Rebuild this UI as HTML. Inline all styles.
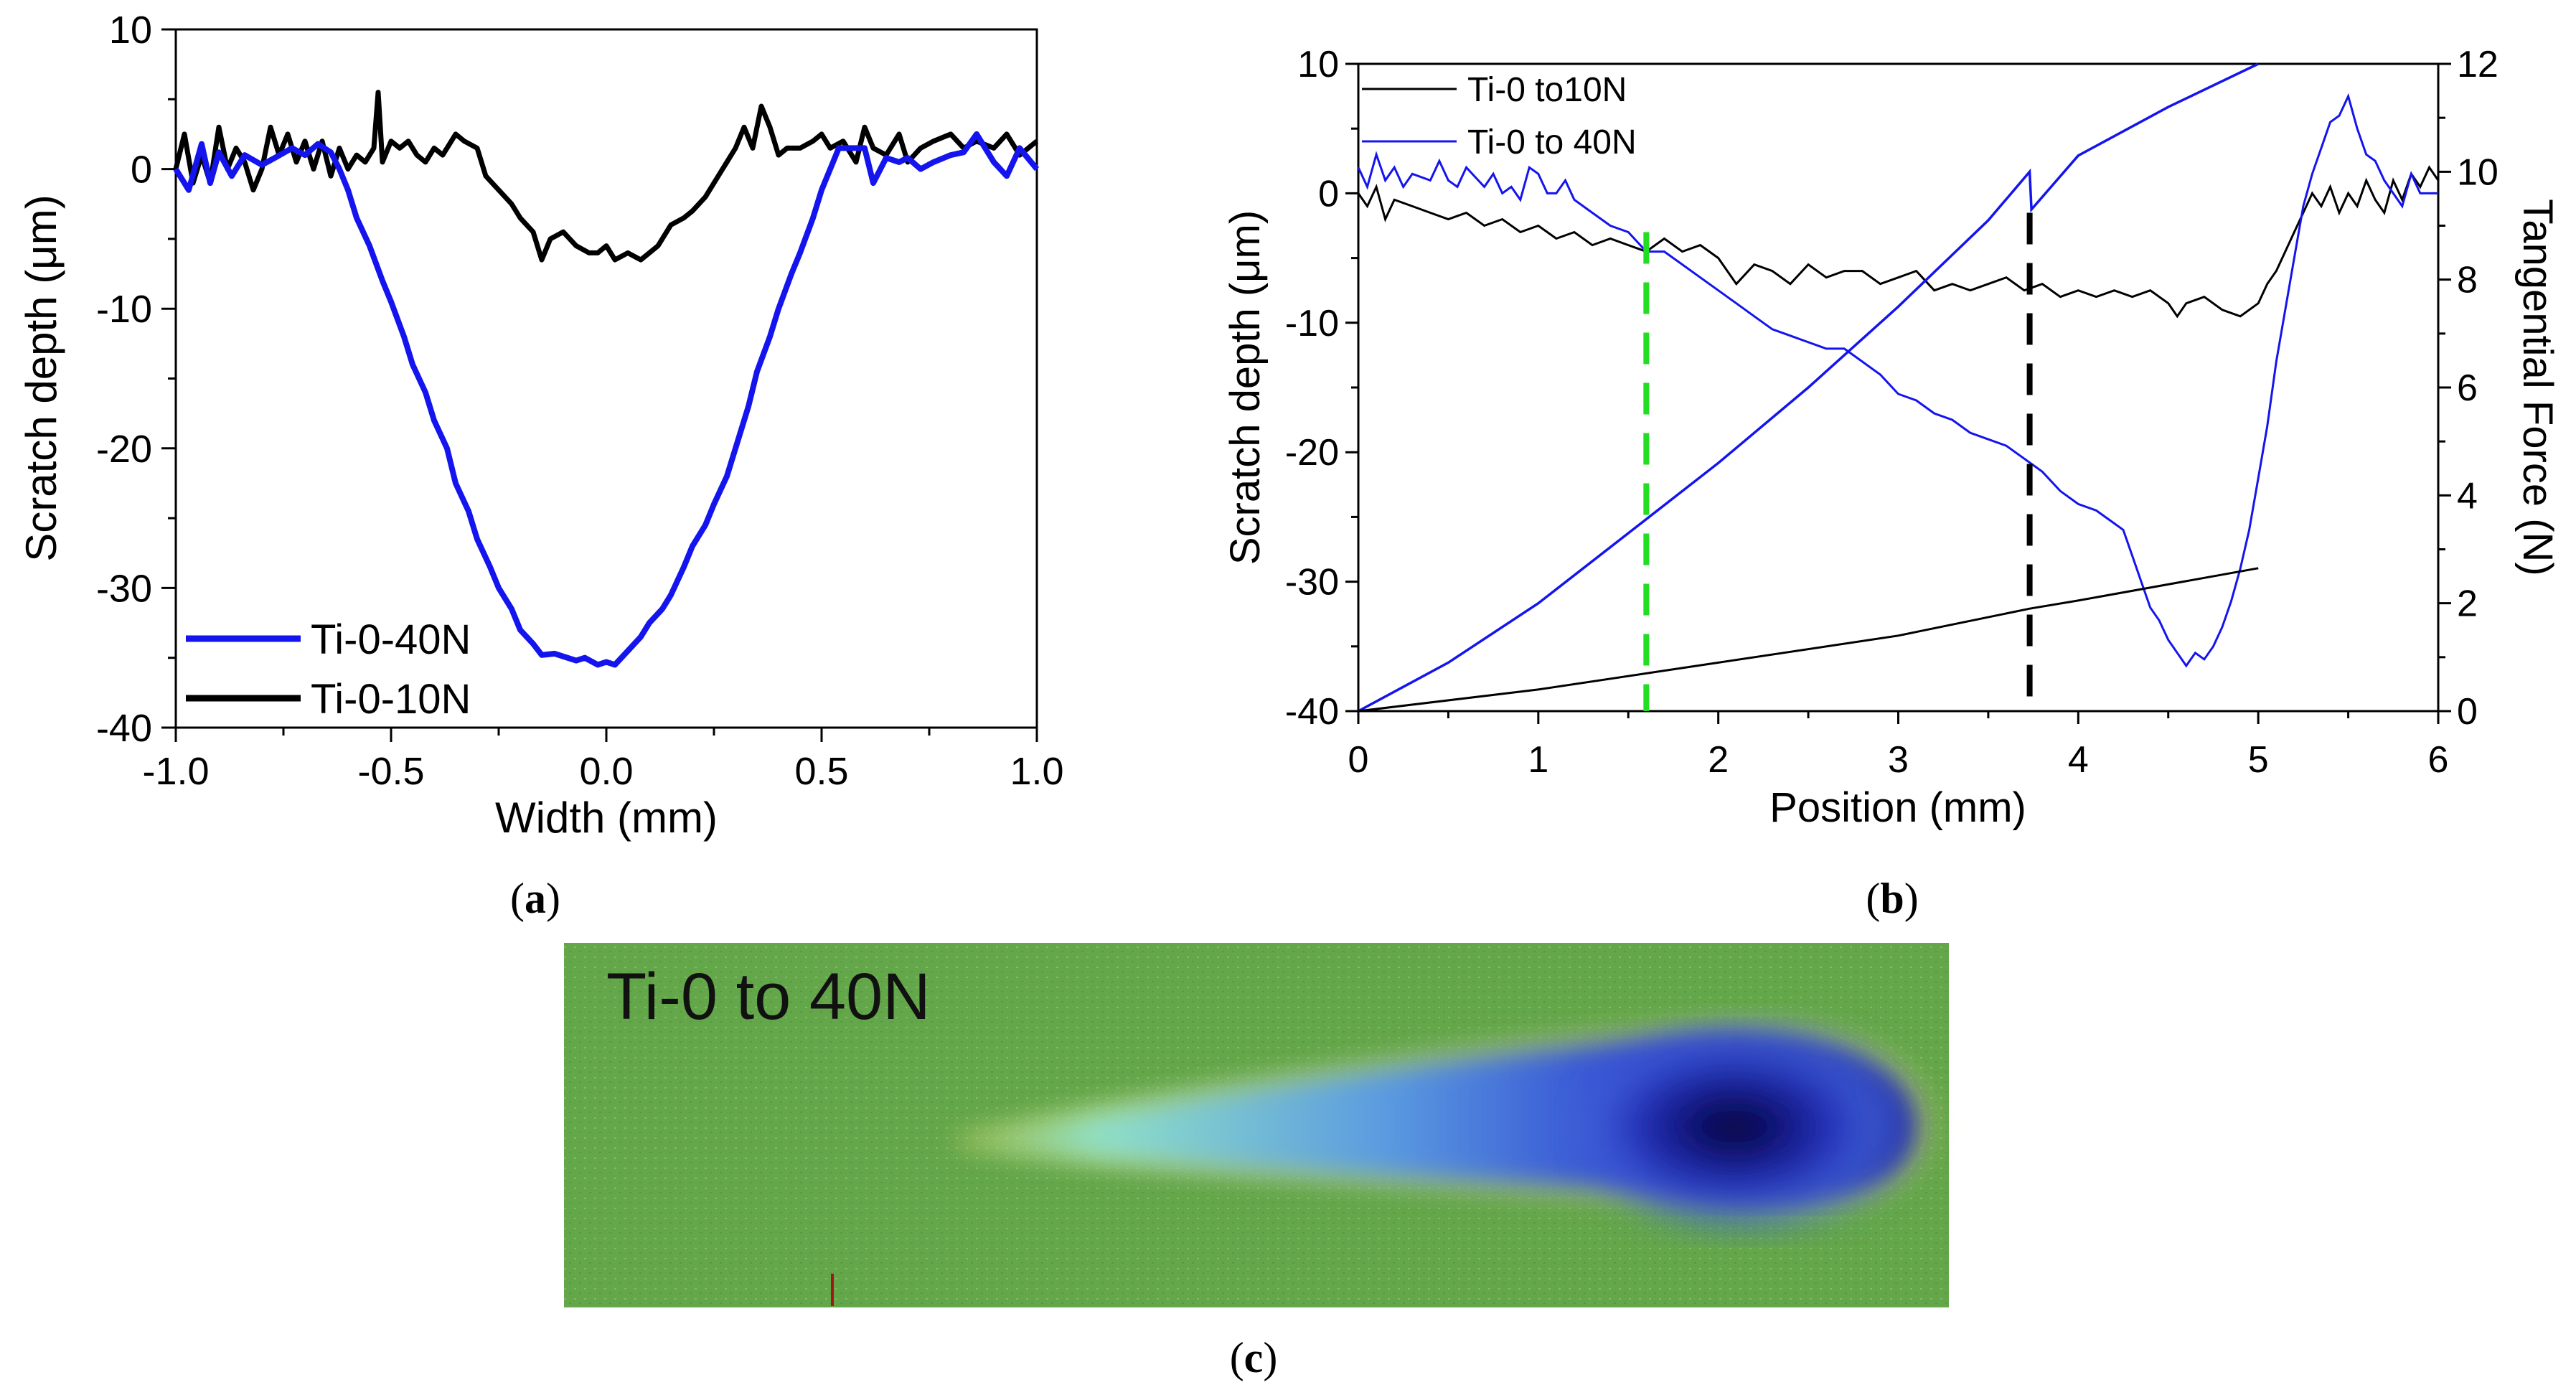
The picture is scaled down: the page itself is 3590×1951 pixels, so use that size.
<!DOCTYPE html>
<html><head><meta charset="utf-8"><style>
html,body{margin:0;padding:0;background:#fff;}
svg text{font-family:"Liberation Sans",sans-serif;}
.serif{font-family:"Liberation Serif",serif;}
</style></head><body>
<svg id="fig" width="3590" height="1946" viewBox="0 0 3590 1946" xmlns="http://www.w3.org/2000/svg">
<defs>
<radialGradient id="head" cx="0.45" cy="0.5" r="0.55">
<stop offset="0" stop-color="#05051e"/><stop offset="0.3" stop-color="#121480"/><stop offset="0.62" stop-color="#2a3cc8"/><stop offset="0.82" stop-color="#4a70d8" stop-opacity="0.7"/><stop offset="1" stop-color="#4a80d8" stop-opacity="0"/>
</radialGradient>
<linearGradient id="tail" x1="0" y1="0" x2="1" y2="0">
<stop offset="0" stop-color="#7ed8a8" stop-opacity="0"/><stop offset="0.15" stop-color="#8fe0c8"/><stop offset="0.45" stop-color="#5a9ae0"/><stop offset="0.75" stop-color="#2a3ad0"/><stop offset="1" stop-color="#1a1ea0"/>
</linearGradient>
<pattern id="tex" width="14" height="14" patternUnits="userSpaceOnUse">
<rect width="14" height="14" fill="none"/><rect x="2" y="3" width="3" height="2" fill="#9fd07a" opacity="0.5"/><rect x="9" y="9" width="3" height="2" fill="#3e8a36" opacity="0.4"/>
</pattern>
<filter id="blur"><feGaussianBlur stdDeviation="18"/></filter>
<filter id="blur2"><feGaussianBlur stdDeviation="25"/></filter>
</defs>
<g id="pa"></g>
<g id="pb"></g>
<g>
<rect x="786" y="1314" width="1930" height="508" fill="#64a64a"/>
<rect x="786" y="1314" width="1930" height="508" fill="url(#tex)"/>
<path d="M1330,1585 C1600,1520 2150,1440 2400,1425 C2620,1420 2700,1500 2690,1580 C2680,1660 2590,1690 2450,1685 C2150,1660 1600,1640 1330,1595 Z" fill="#c9d36a" filter="url(#blur)" opacity="0.7"/>
<path d="M1330,1590 C1600,1530 2150,1450 2400,1440 C2600,1440 2680,1510 2670,1580 C2660,1650 2580,1675 2440,1670 C2150,1650 1600,1630 1330,1595 Z" fill="url(#tail)" filter="url(#blur)"/>
<ellipse cx="2440" cy="1570" rx="230" ry="140" fill="url(#head)" filter="url(#blur2)"/>
<text x="845" y="1420" font-size="92" fill="#111">Ti-0 to 40N</text>
<rect x="1158" y="1775" width="4" height="45" fill="#a01818"/>
</g>
<text class="serif" x="746" y="1272" font-size="60" text-anchor="middle">(<tspan font-weight="bold">a</tspan>)</text>
<text class="serif" x="2637" y="1272" font-size="60" text-anchor="middle">(<tspan font-weight="bold">b</tspan>)</text>
<text class="serif" x="1747" y="1912" font-size="60" text-anchor="middle">(<tspan font-weight="bold">c</tspan>)</text>
</svg>
<script>
// ---------- Panel A data ----------
const aXTicks = [-1.0, -0.5, 0.0, 0.5, 1.0];
const aXTickLabels = ["-1.0", "-0.5", "0.0", "0.5", "1.0"];
const aYTicks = [10, 0, -10, -20, -30, -40];
const aBlueX = [-1,-0.97,-0.94,-0.92,-0.9,-0.87,-0.84,-0.8,-0.77,-0.73,-0.7,-0.67,-0.64,-0.62,-0.6,-0.58,-0.55,-0.52,-0.5,-0.47,-0.45,-0.42,-0.4,-0.37,-0.35,-0.32,-0.3,-0.27,-0.25,-0.22,-0.2,-0.17,-0.15,-0.12,-0.1,-0.07,-0.05,-0.02,0,0.02,0.05,0.08,0.1,0.13,0.15,0.18,0.2,0.23,0.25,0.28,0.3,0.33,0.35,0.38,0.4,0.43,0.45,0.48,0.5,0.52,0.54,0.57,0.6,0.62,0.65,0.68,0.7,0.73,0.76,0.8,0.83,0.86,0.9,0.93,0.96,1.0];
const aBlueY = [0,-1.5,1.8,-1,1.2,-0.5,1,0.3,0.8,1.5,1,1.8,1.2,0,-1.5,-3.5,-5.5,-8,-9.5,-12,-14,-16,-18,-20,-22.5,-24.5,-26.5,-28.5,-30,-31.5,-33,-34,-34.8,-34.7,-34.9,-35.2,-35,-35.5,-35.3,-35.5,-34.5,-33.5,-32.5,-31.5,-30.5,-28.5,-27,-25.5,-24,-22,-20,-17,-14.5,-12,-10,-7.5,-6,-3.5,-1.5,0,1.5,1.5,1.5,-1,0.8,0.5,0.8,0,0.5,1,1.2,2.5,0.5,-0.5,1.5,0];
const aBlackX = [-1,-0.98,-0.96,-0.94,-0.92,-0.9,-0.88,-0.86,-0.84,-0.82,-0.8,-0.78,-0.76,-0.74,-0.72,-0.7,-0.68,-0.66,-0.64,-0.62,-0.6,-0.58,-0.56,-0.54,-0.53,-0.52,-0.5,-0.48,-0.46,-0.44,-0.42,-0.4,-0.38,-0.35,-0.33,-0.3,-0.28,-0.25,-0.22,-0.2,-0.17,-0.15,-0.13,-0.1,-0.07,-0.04,-0.02,0,0.02,0.05,0.08,0.1,0.12,0.15,0.18,0.2,0.23,0.26,0.28,0.3,0.32,0.34,0.36,0.38,0.4,0.42,0.45,0.48,0.5,0.52,0.55,0.58,0.6,0.62,0.65,0.68,0.7,0.73,0.76,0.8,0.83,0.86,0.9,0.93,0.96,1];
const aBlackY = [0,2.5,-1,1,-1,3,0,1.5,0.5,-1.5,0,3,1,2.5,0.5,2,0,2,-0.5,1.5,0,1,0.5,1.5,5.5,0.5,2,1.5,2,1,0.5,1.5,1,2.5,2,1.5,-0.5,-1.5,-2.5,-3.5,-4.5,-6.5,-5,-4.5,-5.5,-6,-6,-5.5,-6.5,-6,-6.5,-6,-5.5,-4,-3.5,-3,-2,-0.5,0.5,1.5,3,1.5,4.5,3,1,1.5,1.5,2,2.5,1.5,2,0.5,3,1.5,1,2.5,0.5,1.5,2,2.5,1.5,2,1.5,2.5,1,2];

// ---------- Panel B data ----------
const bXTicks = [0,1,2,3,4,5,6];
const bYTicks = [10,0,-10,-20,-30,-40];
const bRTicks = [0,2,4,6,8,10,12];
const bBlackDepthX = [0,0.05,0.1,0.15,0.2,0.3,0.4,0.5,0.6,0.7,0.8,0.9,1.0,1.1,1.2,1.3,1.4,1.5,1.6,1.7,1.8,1.9,2.0,2.1,2.2,2.3,2.4,2.5,2.6,2.7,2.8,2.9,3.0,3.1,3.2,3.3,3.4,3.5,3.6,3.7,3.8,3.9,4.0,4.1,4.2,4.3,4.4,4.5,4.55,4.6,4.7,4.8,4.9,5.0,5.05,5.1,5.15,5.2,5.25,5.3,5.35,5.4,5.45,5.5,5.55,5.6,5.65,5.7,5.75,5.8,5.85,5.9,5.95,6.0];
const bBlackDepthY = [0,-1,0.5,-2,-0.5,-1,-1.5,-2,-1.5,-2.5,-2,-3,-2.5,-3.5,-3,-4,-3.5,-4,-4.5,-3.5,-4.5,-4,-5,-7,-5.5,-6,-7,-5.5,-6.5,-6,-6,-7,-6.5,-6,-7.5,-7,-7.5,-7,-6.5,-7.5,-7,-8,-7.5,-8,-7.5,-8,-7.5,-8.5,-9.5,-8.5,-8,-9,-9.5,-8.5,-7,-6,-4.5,-3,-1.5,0,-1,0.5,-1.5,0,-1,1,-0.5,-1.5,1,-0.5,1.5,0.5,2,1];
const bBlueDepthX = [0,0.05,0.1,0.15,0.2,0.25,0.3,0.4,0.45,0.5,0.55,0.6,0.7,0.75,0.8,0.85,0.9,0.95,1.0,1.05,1.1,1.15,1.2,1.3,1.4,1.5,1.6,1.7,1.8,1.9,2.0,2.1,2.2,2.3,2.4,2.5,2.6,2.7,2.8,2.9,3.0,3.1,3.2,3.3,3.4,3.5,3.6,3.7,3.8,3.9,4.0,4.1,4.2,4.25,4.3,4.35,4.4,4.45,4.5,4.55,4.6,4.65,4.7,4.75,4.8,4.85,4.9,4.95,5.0,5.05,5.1,5.15,5.2,5.25,5.3,5.35,5.4,5.45,5.5,5.55,5.6,5.65,5.7,5.75,5.8,5.85,5.9,6.0];
const bBlueDepthY = [2,0.5,3,1,2,0.5,1.5,1,2.5,1,0.5,2,0.5,1.5,0,0.5,-0.5,2,1.5,0,0,1,-0.5,-1.5,-2.5,-3,-4.5,-4.5,-5.5,-6.5,-7.5,-8.5,-9.5,-10.5,-11,-11.5,-12,-12,-13,-14,-15.5,-16,-17,-17.5,-18.5,-19,-19.5,-20.5,-21.5,-23,-24,-24.5,-25.5,-26,-28,-30,-32,-33,-34.5,-35.5,-36.5,-35.5,-36,-35,-33.5,-31.5,-29,-26,-22,-18,-13,-9,-5,-1,1.5,3.5,5.5,6,7.5,5,3,2.5,1,0,-1,1.5,0,0];
const bBlueForceX = [0,0.5,1.0,1.5,2.0,2.5,3.0,3.5,3.73,3.74,4.0,4.5,5.0];
const bBlueForceY = [0,0.9,2.0,3.3,4.6,6.0,7.5,9.1,10.0,9.3,10.3,11.2,12.0];
const bBlackForceX = [0,1.0,1.6,2.0,3.0,3.73,4.0,5.0];
const bBlackForceY = [0,0.4,0.7,0.9,1.4,1.9,2.05,2.65];
const bGreenMarkerX = [1.6];
const bGreenMarkerTop = [-3];
const bBlackMarkerX = [3.73];
const bBlackMarkerTop = [-1.5];

const NS = "http://www.w3.org/2000/svg";
function mk(parent, tag, attrs, text) {
  const e = document.createElementNS(NS, tag);
  for (const k in attrs) e.setAttribute(k, attrs[k]);
  if (text !== undefined) e.textContent = text;
  parent.appendChild(e);
  return e;
}
function pathFrom(xs, ys, fx, fy) {
  return xs.map((x, i) => (i ? "L" : "M") + fx(x).toFixed(1) + "," + fy(ys[i]).toFixed(1)).join("");
}

// ---------- Panel A ----------
(function () {
  const g = document.getElementById("pa");
  const L = 245, R = 1445, T = 41, B = 1014;
  const fx = v => L + (v + 1) / 2 * (R - L);
  const fy = v => T + (10 - v) / 50 * (B - T);
  const frame = mk(g, "rect", { x: L, y: T, width: R - L, height: B - T, fill: "none", stroke: "#000", "stroke-width": 3 });
  
  
  for (let v = -1; v <= 1.001; v += 0.25) {
    const major = Math.abs(v * 2 - Math.round(v * 2)) < 1e-6;
    const t = mk(g, "line", { x1: fx(v), x2: fx(v), y1: B, y2: B + (major ? 20 : 11), stroke: "#000", "stroke-width": 3 });
    
    
  }
  aXTicks.forEach((v, i) => {
    const t = mk(g, "text", { x: fx(v), y: 1093, "font-size": 54, "text-anchor": "middle" }, aXTickLabels[i]);
    
    
  });
  for (let v = -40; v <= 10; v += 5) {
    const major = v % 10 === 0;
    const t = mk(g, "line", { x1: L - (major ? 20 : 11), x2: L, y1: fy(v), y2: fy(v), stroke: "#000", "stroke-width": 3 });
    
    
  }
  aYTicks.forEach(v => {
    const t = mk(g, "text", { x: 212, y: fy(v) + 19, "font-size": 54, "text-anchor": "end" }, String(v));
    
    
  });
  const xt = mk(g, "text", { x: 845, y: 1160, "font-size": 60, "text-anchor": "middle" }, "Width (mm)");
  
  
  const yt = mk(g, "text", { x: 0, y: 0, "font-size": 60, "text-anchor": "middle", transform: "translate(78,527) rotate(-90)" }, "Scratch depth (μm)");
  
  
  const bl = mk(g, "path", { d: pathFrom(aBlackX, aBlackY, fx, fy), fill: "none", stroke: "#000", "stroke-width": 7, "stroke-linejoin": "round" });
  
  
  const bu = mk(g, "path", { d: pathFrom(aBlueX, aBlueY, fx, fy), fill: "none", stroke: "#1414ee", "stroke-width": 8, "stroke-linejoin": "round" });
  
  
  const l1 = mk(g, "line", { x1: 259, x2: 419, y1: 890, y2: 890, stroke: "#1414ee", "stroke-width": 9 });
  
  
  const t1 = mk(g, "text", { x: 433, y: 911, "font-size": 58 }, "Ti-0-40N");
  
  
  const l2 = mk(g, "line", { x1: 259, x2: 419, y1: 973, y2: 973, stroke: "#000", "stroke-width": 9 });
  
  
  const t2 = mk(g, "text", { x: 433, y: 994, "font-size": 58 }, "Ti-0-10N");
  
  
})();

// ---------- Panel B ----------
(function () {
  const g = document.getElementById("pb");
  const L = 1893, R = 3398, T = 89, B = 991;
  const fx = v => L + v / 6 * (R - L);
  const fy = v => T + (10 - v) / 50 * (B - T);
  const fr = v => B - v / 12 * (B - T);
  const frame = mk(g, "rect", { x: L, y: T, width: R - L, height: B - T, fill: "none", stroke: "#000", "stroke-width": 3 });
  
  
  for (let v = 0; v <= 6.001; v += 0.5) {
    const major = Math.abs(v - Math.round(v)) < 1e-6;
    const t = mk(g, "line", { x1: fx(v), x2: fx(v), y1: B, y2: B + (major ? 18 : 10), stroke: "#000", "stroke-width": 3 });
    
    
  }
  bXTicks.forEach(v => {
    const t = mk(g, "text", { x: fx(v), y: 1076, "font-size": 52, "text-anchor": "middle" }, String(v));
    
    
  });
  for (let v = -40; v <= 10; v += 5) {
    const major = v % 10 === 0;
    const t = mk(g, "line", { x1: L - (major ? 18 : 10), x2: L, y1: fy(v), y2: fy(v), stroke: "#000", "stroke-width": 3 });
    
    
  }
  bYTicks.forEach(v => {
    const t = mk(g, "text", { x: 1866, y: fy(v) + 18, "font-size": 52, "text-anchor": "end" }, String(v));
    
    
  });
  for (let v = 0; v <= 12; v += 1) {
    const major = v % 2 === 0;
    const t = mk(g, "line", { x1: R, x2: R + (major ? 18 : 10), y1: fr(v), y2: fr(v), stroke: "#000", "stroke-width": 3 });
    
    
  }
  bRTicks.forEach(v => {
    const t = mk(g, "text", { x: 3424, y: fr(v) + 18, "font-size": 52 }, String(v));
    
    
  });
  const xt = mk(g, "text", { x: 2645, y: 1145, "font-size": 58, "text-anchor": "middle" }, "Position (mm)");
  
  
  const yt = mk(g, "text", { x: 0, y: 0, "font-size": 58, "text-anchor": "middle", transform: "translate(1755,540) rotate(-90)" }, "Scratch depth (μm)");
  
  
  const rt = mk(g, "text", { x: 0, y: 0, "font-size": 58, "text-anchor": "middle", transform: "translate(3517,540) rotate(90)" }, "Tangential Force (N)");
  
  

  const s1 = mk(g, "path", { d: pathFrom(bBlackDepthX, bBlackDepthY, fx, fy), fill: "none", stroke: "#000", "stroke-width": 3 });
  
  
  const s2 = mk(g, "path", { d: pathFrom(bBlueDepthX, bBlueDepthY, fx, fy), fill: "none", stroke: "#1414ee", "stroke-width": 3 });
  
  
  const s3 = mk(g, "path", { d: pathFrom(bBlueForceX, bBlueForceY, fx, fr), fill: "none", stroke: "#1414ee", "stroke-width": 3.5 });
  
  
  const s4 = mk(g, "path", { d: pathFrom(bBlackForceX, bBlackForceY, fx, fr), fill: "none", stroke: "#000", "stroke-width": 3 });
  
  

  bGreenMarkerX.forEach((v, i) => {
    const m = mk(g, "line", { x1: fx(v), x2: fx(v), y1: fy(bGreenMarkerTop[i]), y2: B, stroke: "#22dd22", "stroke-width": 8, "stroke-dasharray": "44,26" });
    
    
  });
  bBlackMarkerX.forEach((v, i) => {
    const m = mk(g, "line", { x1: fx(v), x2: fx(v), y1: fy(bBlackMarkerTop[i]), y2: B - 10, stroke: "#000", "stroke-width": 8, "stroke-dasharray": "44,26" });
    
    
  });

  const l1 = mk(g, "line", { x1: 1898, x2: 2030, y1: 124, y2: 124, stroke: "#000", "stroke-width": 3 });
  
  
  const t1 = mk(g, "text", { x: 2045, y: 141, "font-size": 48 }, "Ti-0 to10N");
  
  
  const l2 = mk(g, "line", { x1: 1898, x2: 2030, y1: 197, y2: 197, stroke: "#1414ee", "stroke-width": 3 });
  
  
  const t2 = mk(g, "text", { x: 2045, y: 214, "font-size": 48 }, "Ti-0 to 40N");
  
  
})();
</script>
</body></html>
